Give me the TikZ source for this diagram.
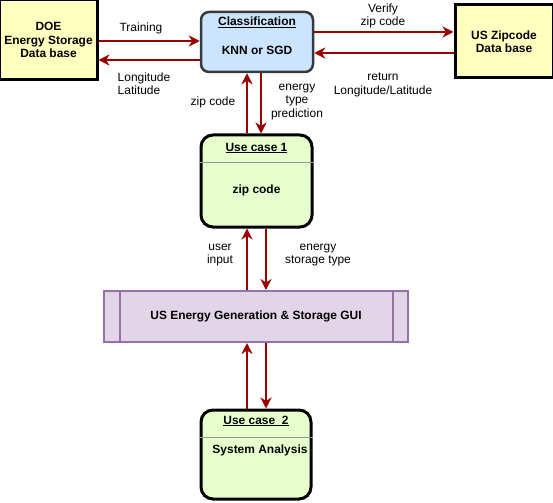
\documentclass[tikz,border=0pt]{standalone}
\usepackage{fontspec}
\setmainfont{Liberation Sans}
\usetikzlibrary{arrows.meta}
\definecolor{dbfill}{HTML}{FFFFC0}
\definecolor{clsfill}{HTML}{CCE5FF}
\definecolor{clsline}{HTML}{36393D}
\definecolor{ucfill}{HTML}{E6FFCC}
\definecolor{guifill}{HTML}{E1D5E7}
\definecolor{guiline}{HTML}{9673A6}
\definecolor{flowred}{HTML}{990000}
\tikzset{
  txt/.style={font=\fontsize{12}{13.5}\selectfont, align=center, inner sep=0pt},
  btxt/.style={txt, font=\fontsize{12}{13.5}\selectfont\bfseries},
  dbbox/.style={draw=black, line width=3bp, fill=dbfill, btxt},
  ucbox/.style={draw=black, line width=3bp, fill=ucfill, rounded corners=12bp},
  flow/.style={draw=flowred, line width=2bp, -{Stealth[length=11bp,width=11bp,inset=3.5bp]}}
}
\begin{document}
\begin{tikzpicture}[x=1bp,y=-1bp]
  \useasboundingbox (0,0) rectangle (553,503);
  \node[dbbox, minimum width=97bp, minimum height=80bp] (doe) at (48.5,40) {DOE\\Energy Storage\\Data base};
  \node[draw=clsline, line width=2.5bp, fill=clsfill, rounded corners=8bp, minimum width=112bp, minimum height=60bp] (cls) at (257,42) {};
  \node[btxt] (clstitle) at (257,22) {\underline{Classification}};
  \node[btxt] (clsbody) at (257,50) {KNN or SGD};
  \node[dbbox, minimum width=98bp, minimum height=73bp] (zip) at (504,41.5) {US Zipcode\\Data base};
  \node[ucbox, minimum width=111bp, minimum height=92bp] (uc1) at (256.5,181) {};
  \draw[draw=black!40, line width=1bp] (uc1.west |- 0,163) -- (uc1.east |- 0,163);
  \node[btxt] (uc1title) at (256.5,148) {\underline{Use case 1}};
  \node[btxt] (uc1body) at (256.5,190) {zip code};
  \node[draw=guiline, line width=2bp, fill=guifill, minimum width=304bp, minimum height=51bp, btxt] (gui) at (256,316.5) {US Energy Generation \& Storage GUI};
  \draw[draw=guiline, line width=2bp] (gui.north -| 120,0) -- (gui.south -| 120,0);
  \draw[draw=guiline, line width=2bp] (gui.north -| 393,0) -- (gui.south -| 393,0);
  \node[ucbox, minimum width=110bp, minimum height=89bp] (uc2) at (256,454.5) {};
  \draw[draw=black!40, line width=1bp] (uc2.west |- 0,437) -- (uc2.east |- 0,437);
  \node[btxt] (uc2title) at (256,421) {\underline{Use case\ \ 2}};
  \node[btxt] (uc2body) at (260,450) {System Analysis};
  \draw[flow] (doe.east |- 0,41) -- (cls.west |- 0,41);
  \draw[flow] (cls.west |- 0,60) -- (doe.east |- 0,60);
  \draw[flow] (cls.east |- 0,32) -- (zip.west |- 0,32);
  \draw[flow] (zip.west |- 0,53) -- (cls.east |- 0,53);
  \draw[flow] (uc1.north -| 247,0) -- (cls.south -| 247,0);
  \draw[flow] (cls.south -| 261,0) -- (uc1.north -| 261,0);
  \draw[flow] (gui.north -| 247,0) -- (uc1.south -| 247,0);
  \draw[flow] (uc1.south -| 266,0) -- (gui.north -| 266,0);
  \draw[flow] (uc2.north -| 247,0) -- (gui.south -| 247,0);
  \draw[flow] (gui.south -| 266,0) -- (uc2.north -| 266,0);
  \node[txt] (training) at (141,28) {Training};
  \node[txt, align=left] (lonlat) at (144,84) {Longitude\\Latitude};
  \node[txt] (verify) at (383,16) {Verify\\zip code};
  \node[txt] (ret) at (383,85) {return\\Longitude/Latitude};
  \node[txt] (zipcode) at (213,102) {zip code};
  \node[txt] (pred) at (297,102) {energy\\type\\prediction};
  \node[txt] (userin) at (220,255) {user\\input};
  \node[txt] (storetype) at (318,255) {energy\\storage type};
\end{tikzpicture}
\end{document}
